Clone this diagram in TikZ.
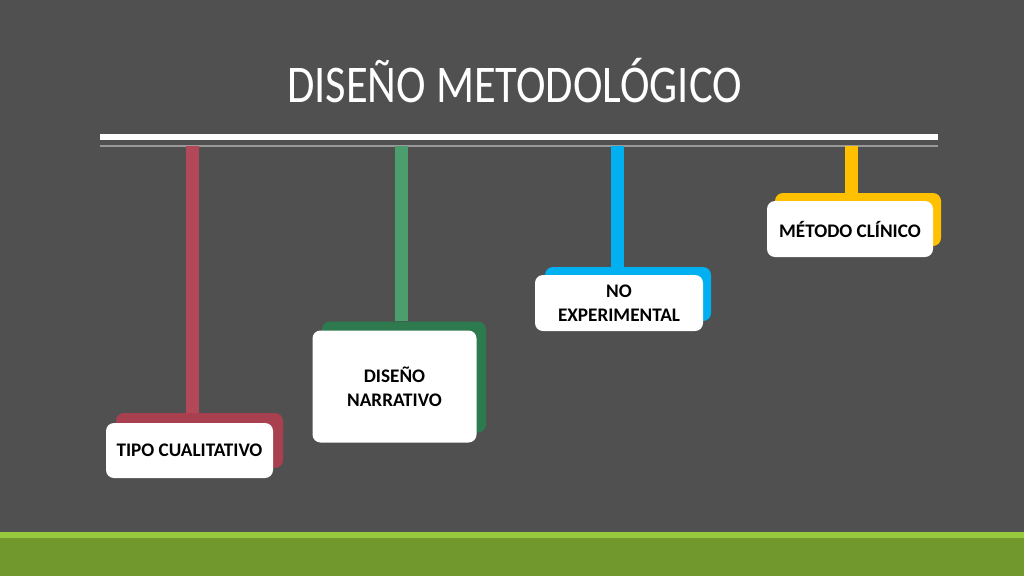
\documentclass[tikz,border=0pt]{standalone}
\usepackage{fontspec}
\setmainfont{Carlito}
\usepackage{xcolor}
\usetikzlibrary{positioning}

\definecolor{fondo}{HTML}{505050}
\definecolor{rojo}{HTML}{B24858}
\definecolor{rojob}{HTML}{A8404F}
\definecolor{verde}{HTML}{4C9E6E}
\definecolor{verdeb}{HTML}{2D7A4E}
\definecolor{azul}{HTML}{00B0F0}
\definecolor{amarillo}{HTML}{FFC000}
\definecolor{lima}{HTML}{96C93D}
\definecolor{limab}{HTML}{71982C}

\begin{document}
\begin{tikzpicture}[
    x=1pt, y=-1pt,
    caja/.style={rectangle, rounded corners=8pt, fill=white, align=center,
      inner sep=0pt, font=\fontsize{19.2}{24}\selectfont\bfseries},
    fondocaja/.style={rectangle, rounded corners=8pt, inner sep=0pt},
    tallo/.style={line width=13pt}
]
  \useasboundingbox (0,0) rectangle (1024,576);

  % 背景
  \fill[fondo] (0,0) rectangle (1024,576);
  \fill[limab] (0,537) rectangle (1024,576);
  \fill[lima] (0,532) rectangle (1024,538);

  % 标题和横线
  \node[text=white, anchor=base, inner sep=0pt, xscale=0.84, transform shape,
    font=\fontsize{53}{60}\selectfont] (titulo) at (514.5,102) {DISEÑO METODOLÓGICO};
  \fill[white] (100,134) rectangle (938,140);
  \fill[gray!80] (100,145) rectangle (938,147);

  % 定义挂点
  \coordinate (s1) at (192.5,146);
  \coordinate (s2) at (401.5,146);
  \coordinate (s3) at (617,146);
  \coordinate (s4) at (851,146);

  % 背后的彩色框
  \node[fondocaja, fill=rojob, minimum width=167pt, minimum height=55pt] (tipob) at (199.5,440.5) {};
  \node[fondocaja, fill=verdeb, minimum width=164pt, minimum height=111pt] (disenob) at (404,377) {};
  \node[fondocaja, fill=azul, minimum width=166pt, minimum height=54pt] (nob) at (628,294) {};
  \node[fondocaja, fill=amarillo, minimum width=166pt, minimum height=53pt] (metodob) at (858,219.5) {};

  % 竖线
  \draw[tallo, rojo] (s1) -- (s1 |- tipob.north);
  \draw[tallo, verde] (s2) -- (s2 |- disenob.north);
  \draw[tallo, azul] (s3) -- (s3 |- nob.north);
  \draw[tallo, amarillo] (s4) -- (s4 |- metodob.north);

  % 白色文字框
  \node[caja, minimum width=167pt, minimum height=55pt] (tipo) at (189.5,450.5) {TIPO CUALITATIVO};
  \node[caja, minimum width=164pt, minimum height=112pt] (diseno) at (394.5,386.5) {DISEÑO\\NARRATIVO};
  \node[caja, minimum width=168pt, minimum height=56pt] (no) at (619,303) {NO\\EXPERIMENTAL};
  \node[caja, minimum width=166pt, minimum height=56pt] (metodo) at (850,229) {MÉTODO CLÍNICO};
\end{tikzpicture}
\end{document}
